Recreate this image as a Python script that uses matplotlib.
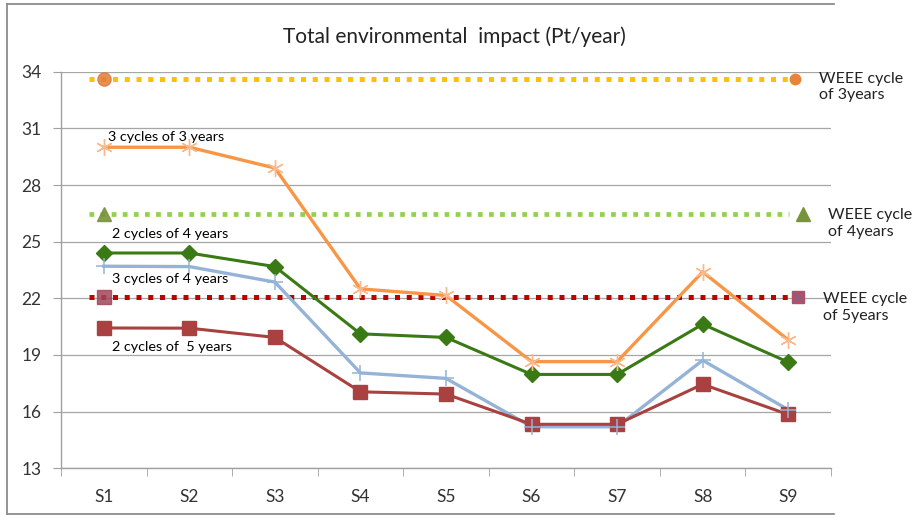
import matplotlib
matplotlib.use("Agg")
import matplotlib.pyplot as plt
from matplotlib.lines import Line2D
import numpy as np

plt.rcParams['font.family'] = ['Lato', 'DejaVu Sans']

categories = ["S1", "S2", "S3", "S4", "S5", "S6", "S7", "S8", "S9"]

cyc3x3 = [30.0, 30.0, 28.9, 22.5, 22.15, 18.65, 18.65, 23.4, 19.8]
cyc2x4 = [24.4, 24.4, 23.68, 20.12, 19.93, 17.97, 17.97, 20.63, 18.62]
cyc3x4 = [23.7, 23.68, 22.86, 18.05, 17.76, 15.2, 15.2, 18.72, 16.1]
cyc2x5 = [20.43, 20.42, 19.93, 17.05, 16.93, 15.33, 15.33, 17.45, 15.85]

weee3 = 33.62
weee4 = 26.47
weee5 = 22.07

series_labels = ["3 cycles of 3 years", "2 cycles of 4 years",
                 "3 cycles of 4 years", "2 cycles of  5 years"]
weee_labels = ["WEEE cycle\nof 3years", "WEEE cycle\nof 4years", "WEEE cycle\nof 5years"]
title = "Total environmental  impact (Pt/year)"
yticks = [13, 16, 19, 22, 25, 28, 31, 34]

fig = plt.figure(figsize=(9.23, 5.15), dpi=100)
W, H = 923, 515
ax = fig.add_axes([61 / W, 1 - 468.3 / H, (831 - 61) / W, (468.3 - 71.7) / H])

x = np.arange(len(categories))
ax.set_xlim(-0.5, len(categories) - 0.5)
ax.set_ylim(13, 34)

# gridlines
ax.set_yticks(yticks)
ax.yaxis.grid(True, color='#A6A6A6', linewidth=0.9)
ax.set_axisbelow(True)

# reference dotted lines
ref_span = [-0.17, len(categories) - 0.99]
dot = (0, (1, 1.35))
ax.plot(ref_span, [weee3, weee3], color='#FFC000', lw=3.6, ls=dot, dash_capstyle='butt', zorder=2)
ax.plot(ref_span, [weee4, weee4], color='#92D050', lw=3.4, ls=dot, dash_capstyle='butt', zorder=2)
ax.plot(ref_span, [weee5, weee5], color='#C00000', lw=3.6, ls=dot, dash_capstyle='butt', zorder=2)

# reference markers
ax.plot([0], [weee3], marker='o', ms=9.5, color='#E07B39', alpha=0.85, ls='none', zorder=3)
ax.plot([8.08], [weee3], marker='o', ms=7.5, color='#E8843A', ls='none', zorder=3, clip_on=False)
ax.plot([0], [weee4], marker='^', ms=10, color='#77933C', alpha=0.9, ls='none', zorder=3)
ax.plot([8.17], [weee4], marker='^', ms=10, color='#77933C', ls='none', zorder=3, clip_on=False)
ax.plot([0], [weee5], marker='s', ms=10, color='#A0465A', alpha=0.85, ls='none', zorder=3)
ax.plot([8.12], [weee5], marker='s', ms=9, color='#B5505E', ls='none', zorder=3, clip_on=False)
ax.plot([8.12], [weee5], marker='x', ms=8, mew=1, color='#7E60A0', ls='none', zorder=4, clip_on=False)

# data series
ax.plot(x, cyc3x3, color='#F79646', lw=2.4, zorder=5)
ax.plot(x, cyc3x3, marker=(6, 2, 0), ms=12, mew=1.0, color='#FBB98A', ls='none', zorder=6)
ax.plot(x, cyc2x4, color='#3A7A14', lw=2.2, marker='D', ms=8, mec='#3A7A14', mfc='#3A7A14', zorder=5)
ax.plot(x, cyc3x4, color='#95B3D7', lw=2.4, zorder=5)
ax.plot(x, cyc3x4, marker='+', ms=11, mew=1.1, color='#95B3D7', ls='none', zorder=6)
ax.plot(x, cyc2x5, color='#A8413F', lw=2.2, marker='s', ms=10, mec='#A8413F', mfc='#A8413F', zorder=5)

# series text labels (data coords)
lab_pos = [(0.05, 30.53), (0.1, 25.38), (0.1, 23.03), (0.1, 19.43)]
for (lx, ly), t in zip(lab_pos, series_labels):
    ax.text(lx, ly, t, fontsize=10.4, color='#000000', va='center', ha='left', zorder=7)

# right text labels
wx = [819 / W, 828 / W, 823 / W]
wy = [1 - 87 / H, 1 - 223.5 / H, 1 - 307.5 / H]
for tx, ty, t in zip(wx, wy, weee_labels):
    fig.text(tx, ty, t, fontsize=11.5, color='#222222', va='center', ha='left', linespacing=1.25)

# axes styling
for s in ['top', 'right']:
    ax.spines[s].set_visible(False)
for s in ['left', 'bottom']:
    ax.spines[s].set_color('#A0A0A0')
    ax.spines[s].set_linewidth(1.0)

ax.set_xticks(x)
ax.set_xticklabels(categories)
ax.set_xticks(np.arange(-0.5, len(categories), 1.0), minor=True)
ax.tick_params(axis='x', which='major', length=0, pad=15, labelsize=12.5, labelcolor='#333333')
ax.tick_params(axis='x', which='minor', length=6, color='#A0A0A0', direction='out')
ax.tick_params(axis='y', which='major', length=6, color='#A0A0A0', pad=8, labelsize=12.5, labelcolor='#333333')

fig.text(454 / W, 1 - 37 / H, title, fontsize=15, ha='center', va='center', color='#222222')

# outer border
bc = '#8C8C8C'
fig.add_artist(Line2D([7 / W, 834 / W], [1 - 4.3 / H, 1 - 4.3 / H], color=bc, lw=1.3))
fig.add_artist(Line2D([7.3 / W, 7.3 / W], [1 - 4.3 / H, 1 - 514 / H], color=bc, lw=1.3))
fig.add_artist(Line2D([7 / W, 834 / W], [1 - 514 / H, 1 - 514 / H], color=bc, lw=1.3))

fig.savefig("out.png", dpi=100)
